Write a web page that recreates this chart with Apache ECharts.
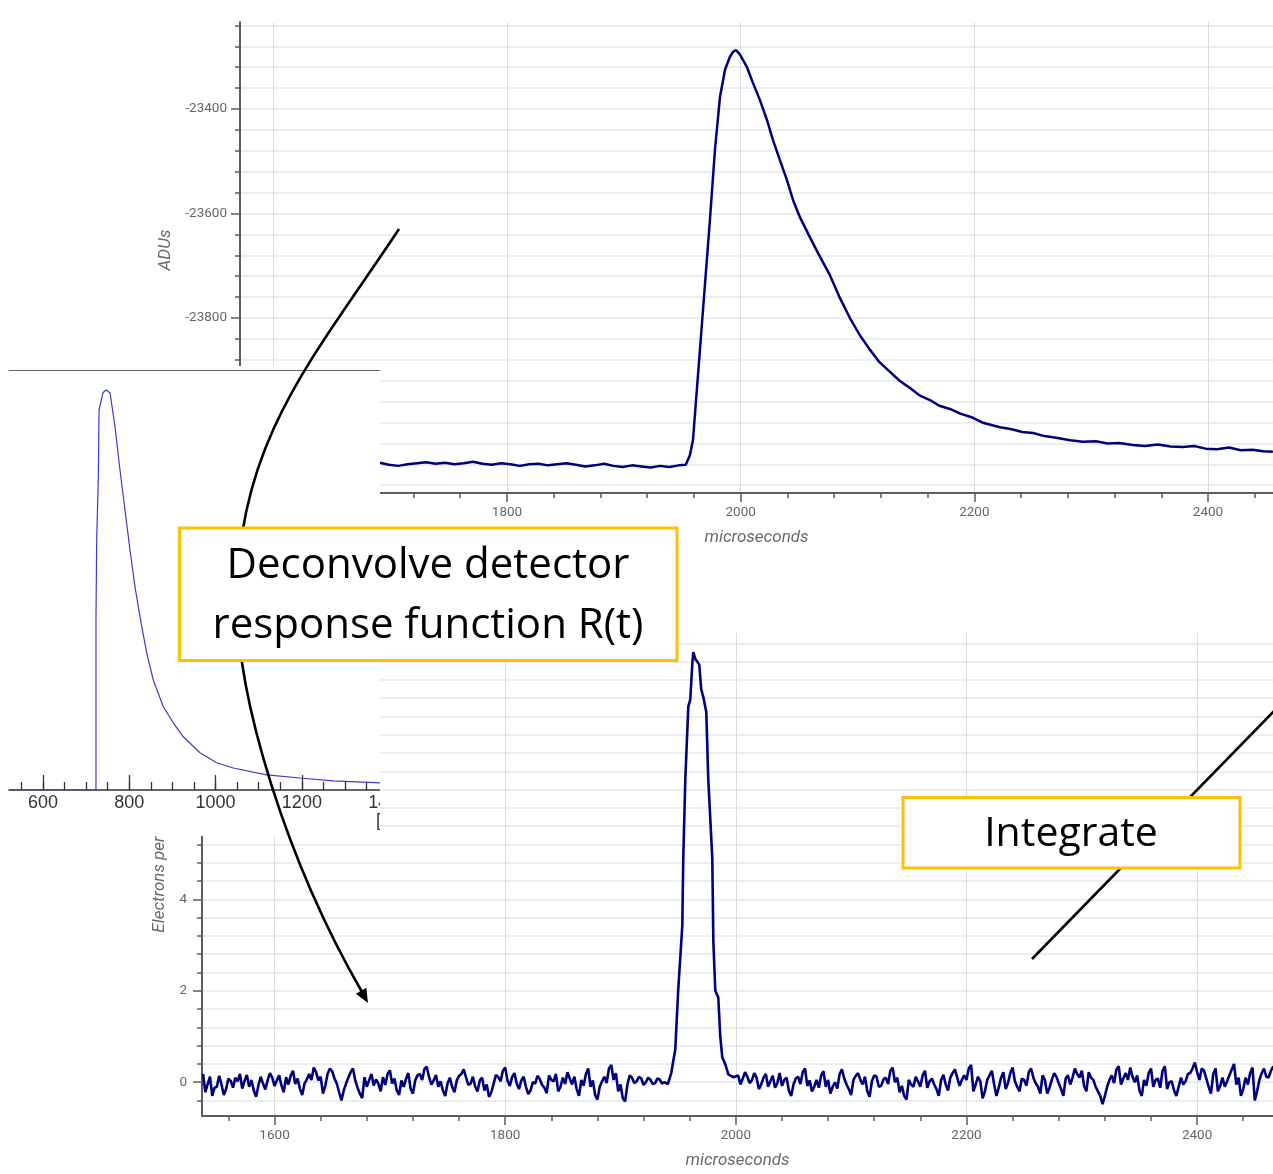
<!DOCTYPE html>
<html><head><meta charset="utf-8">
<script src="https://cdn.jsdelivr.net/npm/echarts@6/dist/echarts.min.js"></script>
<style>
html,body{margin:0;padding:0;background:#fff;width:1273px;height:1174px;overflow:hidden;position:relative}
#top{position:absolute;left:0;top:0;width:1273px;height:560px;z-index:1}
#bottom{position:absolute;left:0;top:560px;width:1273px;height:614px;z-index:2}
#insetWrap{position:absolute;left:0;top:366px;width:380px;height:470px;overflow:hidden;background:#fff;z-index:3}
#inset{position:absolute;left:0;top:0;width:440px;height:470px}
#overlay{position:absolute;left:0;top:0;width:1273px;height:1174px;z-index:4;pointer-events:none}
</style></head>
<body>
<div id="top"></div>
<div id="bottom"></div>
<div id="insetWrap"><div id="inset"></div></div>
<div id="overlay"></div>
<script>
// ---------------- DATA ----------------
// Top chart (ADUs vs microseconds): baseline samples then pulse
const topBaseStart = 1571, topBaseStep = 8;
const topBaseValues = [-24081,-24079,-24082,-24080,-24078,-24083,-24081,-24079,-24080,-24084,
 -24081,-24078,-24080,-24082,-24079,-24077,-24081,-24083,-24080,-24078,
 -24076,-24079,-24077,-24080,-24078,-24075,-24079,-24081,-24078,-24080,
 -24083,-24080,-24079,-24082,-24080,-24078,-24081,-24084,-24082,-24079,
 -24083,-24085,-24082,-24084,-24086,-24083,-24085,-24082];
const topPulseTimes = [1953,1956.6,1959.2,1965.2,1973.7,1978,1982.3,1986.6,1990.8,1993.4,1996,1999.4,2005.4,2010.5,2016.5,2022.5,2027.6,2033.6,2039.6,2044.8,2050.7,2058,2066,2076.4,2085,2093.5,2102,2110.7,2119,2127.8,2136,2144.9,2153,2162,2170,2179.1,2188,2198.8,2208,2221.9,2232,2241,2250.2,2260,2270,2282,2292.9,2304,2314,2324,2335.7,2346,2357,2368,2378.5,2388,2398,2407.6,2418,2428,2438,2447,2455.5];
const topPulseValues = [-24081,-24062,-24033,-23859,-23612,-23478,-23377,-23325,-23300,-23291,-23287,-23296,-23320,-23350,-23383,-23421,-23459,-23498,-23536,-23574,-23607,-23640,-23675,-23718,-23762,-23800,-23833,-23861,-23885,-23903,-23920,-23934,-23948,-23957,-23968,-23974,-23983,-23991,-24001,-24009,-24013,-24018,-24020,-24026,-24029,-24034,-24037,-24036,-24040,-24039,-24043,-24045,-24042,-24046,-24047,-24045,-24050,-24051,-24048,-24053,-24052,-24055,-24056];
const topXMajor = [1600,1800,2000,2200,2400];
const topYMajor = [-24000,-23800,-23600,-23400];

// Inset: detector response function R(t)
const insetTimes = [521,700,722.8,722.8,724.4,728.2,729.8,739,746,755.3,766.9,778.4,790,801.6,813.2,824.8,840.3,855.6,878.8,902,925.1,963.8,1002.5,1041,1118.4,1195.6,1272.8,1381,1520];
const insetValues = [0,0,0,0.425,0.625,0.78,0.95,0.993,1.0,0.993,0.908,0.80,0.70,0.60,0.508,0.433,0.343,0.275,0.208,0.168,0.133,0.093,0.068,0.055,0.038,0.030,0.023,0.018,0.015];
const insetXMajor = [600,800,1000,1200,1400];

// Bottom chart (Electrons per ... vs microseconds)
const botLeftStart = 1538, botLeftStep = 2;
const botLeftValues = [
 0.18,-0.22,-0.04,0.12,-0.3,-0.12,-0.1,0.14,-0.05,-0.28,-0.15,0.08,0.03,-0.12,0.1,0.02,0.18,-0.14,0.03,
 0.16,-0.1,0.05,-0.18,-0.32,-0.07,0.12,-0.03,-0.16,0.04,0.2,0.1,-0.08,0.04,0.15,-0.07,-0.22,0.11,-0.05,0.14,
 0.25,-0.04,0.08,-0.14,-0.28,-0.03,0.06,0.18,0.05,0.32,0.22,0.04,0.12,-0.25,-0.08,0.18,0.3,0.24,0.08,-0.03,
 -0.22,-0.4,-0.18,-0.03,0.1,0.22,0.3,0.04,-0.12,-0.25,-0.35,0.11,-0.1,0.04,0.18,-0.07,0.06,-0.03,-0.2,0.11,
 -0.06,0.18,0.26,-0.03,0.08,-0.18,-0.28,0.04,-0.1,0.07,0.2,-0.14,-0.25,0.04,0.15,0.18,0.05,0.29,0.34,0.11,
 -0.05,0.04,0.16,-0.1,0.02,-0.18,-0.3,-0.03,0.1,-0.1,-0.22,0.04,0.14,0.18,0.28,0.11,-0.06,-0.03,0.12,-0.1,
 -0.2,0.04,0.1,-0.18,-0.05,-0.32,-0.22,-0.03,0.16,0.11,0.02,0.25,0.32,0.04,-0.08,0.11,0.2,-0.03,-0.15,0.04,
 0.12,-0.1,-0.26,-0.18,0.0,-0.03,0.14,0.07,-0.06,-0.12,-0.24,0.15,0.05,0.02,0.18,-0.2,-0.1,0.1,-0.04,0.22,
 0.08,-0.05,0.12,-0.15,-0.3,0.05,-0.08,0.18,0.3,-0.1,0.04,-0.28,-0.38,-0.1,0.02,0.12,-0.02,0.3,0.38,0.05,
 0.2,-0.2,-0.05,-0.35,-0.42,-0.05,0.15,0.1,-0.02,0.02,0.12,0.08,-0.06,0.0,0.1,0.05,-0.04,-0.02,0.08,0.06,
 -0.03,0.0];
const botPeakTimes = [1941,1944,1947.5,1950,1953.6,1954.4,1956.2,1958.8,1960.5,1962.3,1963.1,1965,1966.6,1968.3,1970,1971.8,1974.4,1976.1,1979.6,1980.5,1982.2,1984.8,1986.5,1988.3,1990.9,1993.5,1997.8];
const botPeakValues = [-0.04,0.2,0.72,2.0,3.43,4.89,6.63,8.22,8.37,9.17,9.41,9.25,9.2,9.13,8.59,8.43,8.09,6.63,4.89,3.09,2.0,1.85,1.0,0.54,0.39,0.17,0.11];
const botRightStart = 2002, botRightStep = 2;
const botRightValues = [
 0.15,-0.05,0.08,0.22,0.12,-0.02,0.05,0.2,0.1,-0.15,-0.05,0.1,0.18,-0.1,0.02,0.14,-0.12,-0.02,0.2,
 -0.08,0.05,0.1,-0.18,-0.3,-0.05,0.08,0.12,-0.04,0.22,0.3,-0.08,0.04,-0.2,-0.1,0.05,-0.12,0.15,0.24,-0.1,
 0.05,-0.25,-0.1,0.0,-0.14,0.18,0.28,0.08,-0.05,-0.15,-0.28,0.05,0.14,0.2,0.05,-0.05,0.12,-0.2,-0.32,0.02,
 0.15,0.12,-0.1,-0.08,0.06,0.1,-0.04,0.25,0.32,0.0,0.1,-0.22,-0.08,-0.3,-0.38,0.05,-0.05,-0.1,0.12,0.02,
 -0.1,0.15,0.25,-0.12,0.02,0.08,-0.05,-0.15,-0.3,0.05,0.16,-0.05,-0.18,0.1,0.2,0.28,0.1,-0.08,0.05,0.15,
 0.05,0.3,0.38,-0.2,-0.05,0.12,0.02,-0.35,-0.2,0.05,0.15,0.25,-0.05,-0.3,-0.12,0.1,0.22,-0.15,-0.02,0.2,
 0.32,0.02,-0.1,-0.2,0.08,0.05,-0.08,0.22,0.3,0.1,-0.02,-0.1,-0.25,0.15,0.05,-0.25,-0.12,0.05,0.2,0.12,
 -0.02,-0.15,-0.3,0.08,0.15,-0.05,0.1,0.3,0.18,0.1,0.25,-0.08,-0.2,0.22,0.1,0.05,-0.1,-0.2,-0.3,-0.48,
 -0.3,-0.1,0.05,0.15,-0.02,0.28,0.35,-0.05,0.08,0.2,0.05,0.32,0.12,0.0,0.15,-0.18,-0.3,0.05,-0.08,0.2,
 0.3,-0.1,0.05,0.08,-0.12,0.25,0.35,-0.15,0.0,0.02,-0.18,-0.3,-0.1,0.1,-0.05,0.02,0.18,0.2,0.3,0.43,
 0.22,0.05,0.3,0.25,0.08,-0.1,-0.25,0.18,0.3,-0.2,-0.08,0.1,-0.1,0.02,0.15,0.28,0.4,-0.05,0.1,-0.3,
 -0.15,0.1,-0.05,0.2,0.32,-0.4,-0.2,0.05,0.2,0.3,0.12,0.1,0.25,0.35];
const botXMajor = [1600,1800,2000,2200,2400];
const botYMajor = [0,2,4,6,8];

// ---------------- helpers ----------------
function range(a, b, step) { const out = []; for (let v = a; v <= b + 1e-9; v += step) out.push(Math.round(v * 1000) / 1000); return out; }
function sampled(start, step, vals) { return vals.map((v, i) => [start + i * step, v]); }
function paired(ts, vs) { return ts.map((t, i) => [t, vs[i]]); }
const fmt = v => String(v);

const AX = '#5c5c5c';
const HGRID = '#e6e6f0';
const VGRID = '#dcdce6';
const LBL = {color: '#666', fontSize: 13.5, fontFamily: 'Roboto, sans-serif'};
const NAME = {color: '#6a6a6a', fontSize: 17, fontStyle: 'italic', fontFamily: 'Roboto, sans-serif'};
const LINE = '#00007c';

function minorAxis(min, max, ticks, extra) {
  return Object.assign({type: 'value', min: min, max: max,
    axisLine: {show: true, onZero: false, lineStyle: {color: AX, width: 2}},
    axisTick: {show: true, customValues: ticks, length: 5, lineStyle: {color: AX, width: 1.5}},
    axisLabel: {show: false}, splitLine: {show: false}}, extra);
}
function majorAxis(min, max, ticks, margin, extra) {
  return Object.assign({type: 'value', min: min, max: max,
    axisLine: {show: false, onZero: false},
    axisTick: {show: true, customValues: ticks, length: 9, lineStyle: {color: AX, width: 1.5}},
    axisLabel: Object.assign({show: true, customValues: ticks, formatter: fmt, margin: margin}, LBL),
    splitLine: {show: false}}, extra);
}

// ---------------- TOP CHART ----------------
const topData = sampled(topBaseStart, topBaseStep, topBaseValues).concat(paired(topPulseTimes, topPulseValues));
const topX = {min: 1571.5, max: 2455.6};
const topY = {min: -24134.9, max: -23233.5};
const topChart = echarts.init(document.getElementById('top'), null, {renderer: 'canvas'});
topChart.setOption({
  animation: false, backgroundColor: 'transparent',
  grid: {left: 240, right: 0, top: 22, height: 471, containLabel: false},
  xAxis: [
    minorAxis(topX.min, topX.max, range(1600, 2440, 40), {position: 'bottom'}),
    majorAxis(topX.min, topX.max, topXMajor, 13, {position: 'bottom',
      splitLine: {show: true, lineStyle: {color: VGRID, width: 1}},
      name: 'microseconds', nameLocation: 'middle', nameGap: 36, nameTextStyle: NAME})
  ],
  yAxis: [
    minorAxis(topY.min, topY.max, range(-24120, -23240, 40), {position: 'left',
      splitLine: {show: true, lineStyle: {color: HGRID, width: 1.5}}}),
    majorAxis(topY.min, topY.max, topYMajor, 13, {position: 'left',
      name: 'ADUs', nameLocation: 'middle', nameGap: 63, nameTextStyle: Object.assign({padding: [0, 0, 0, 15]}, NAME)})
  ],
  series: [{type: 'line', xAxisIndex: 0, yAxisIndex: 0, data: topData, showSymbol: false, silent: true,
            lineStyle: {color: LINE, width: 2.5}, clip: true}]
});

// ---------------- BOTTOM CHART ----------------
const botData = sampled(botLeftStart, botLeftStep, botLeftValues)
  .concat(paired(botPeakTimes, botPeakValues))
  .concat(sampled(botRightStart, botRightStep, botRightValues));
const botX = {min: 1537.1, max: 2465.8};
const botY = {min: -0.739, max: 9.826};
const botChart = echarts.init(document.getElementById('bottom'), null, {renderer: 'canvas'});
botChart.setOption({
  animation: false, backgroundColor: 'transparent',
  grid: {left: 202, right: 0, top: 73, height: 486, containLabel: false},
  xAxis: [
    minorAxis(botX.min, botX.max, range(1560, 2440, 40), {position: 'bottom'}),
    majorAxis(botX.min, botX.max, botXMajor, 13, {position: 'bottom',
      splitLine: {show: true, lineStyle: {color: VGRID, width: 1}},
      name: 'microseconds', nameLocation: 'middle', nameGap: 36, nameTextStyle: NAME})
  ],
  yAxis: [
    minorAxis(botY.min, botY.max, range(-0.4, 9.6, 0.4), {position: 'left',
      splitLine: {show: true, lineStyle: {color: HGRID, width: 1.5}}}),
    majorAxis(botY.min, botY.max, botYMajor, 15, {position: 'left',
      name: 'Electrons per', nameLocation: 'middle', nameGap: 26, nameTextStyle: Object.assign({padding: [0, 20, 0, 0]}, NAME)})
  ],
  series: [{type: 'line', xAxisIndex: 0, yAxisIndex: 0, data: botData, showSymbol: false, silent: true,
            lineStyle: {color: LINE, width: 2.6}, clip: true}]
});

// ---------------- INSET ----------------
const insetChart = echarts.init(document.getElementById('inset'), null, {renderer: 'canvas'});
const insetX = {min: 521.2, max: 1520.1};
insetChart.setOption({
  animation: false, backgroundColor: '#fff',
  grid: {left: 9, right: 0, top: 4, height: 420, containLabel: false},
  xAxis: [
    {type: 'value', position: 'bottom', min: insetX.min, max: insetX.max,
     axisLine: {show: true, onZero: false, lineStyle: {color: '#333', width: 1.5}},
     axisTick: {show: true, inside: true, customValues: range(550, 1500, 50), length: 8, lineStyle: {color: '#333', width: 1.3}},
     axisLabel: {show: false}, splitLine: {show: false}},
    {type: 'value', position: 'bottom', min: insetX.min, max: insetX.max,
     axisLine: {show: false, onZero: false},
     axisTick: {show: true, inside: true, customValues: insetXMajor, length: 15, lineStyle: {color: '#333', width: 1.3}},
     axisLabel: {show: true, customValues: insetXMajor, formatter: fmt, margin: 4, color: '#333', fontSize: 18, fontFamily: 'Liberation Sans, Arial, sans-serif'},
     splitLine: {show: false}},
    {type: 'value', position: 'top', min: insetX.min, max: insetX.max,
     axisLine: {show: true, onZero: false, lineStyle: {color: '#666', width: 1}},
     axisTick: {show: false}, axisLabel: {show: false}, splitLine: {show: false}}
  ],
  yAxis: {type: 'value', min: 0, max: 1.05, show: false, splitLine: {show: false}},
  series: [{type: 'line', xAxisIndex: 0, data: paired(insetTimes, insetValues), showSymbol: false, silent: true,
            lineStyle: {color: '#3b3bcc', width: 1.2}}],
  graphic: [{type: 'text', left: 376, top: 446, style: {text: '[µs]', fill: '#333', fontSize: 18, fontFamily: 'Liberation Sans, Arial, sans-serif'}}]
});

// ---------------- ANNOTATION OVERLAY ----------------
const overlay = echarts.init(document.getElementById('overlay'), null, {renderer: 'canvas'});
const boxFont = '"Open Sans", Lato, sans-serif';
const txt = (x, y, s, size) => ({type: 'text', z: 3, x: x, y: y, style: {text: s, fill: '#000', fontSize: size, fontFamily: boxFont,
  align: 'center', verticalAlign: 'middle', textAlign: 'center', textVerticalAlign: 'middle'}});
overlay.setOption({
  animation: false, backgroundColor: 'transparent',
  graphic: [
    {type: 'bezierCurve', z: 1, shape: {x1: 399, y1: 229, cpx1: 316.5, cpy1: 354, cpx2: 237, cpy2: 440, x2: 237, y2: 600},
     style: {stroke: '#000', lineWidth: 2.6, fill: null}},
    {type: 'bezierCurve', z: 1, shape: {x1: 237, y1: 600, cpx1: 237, cpy1: 700, cpx2: 286.6, cpy2: 860.8, x2: 362, y2: 992},
     style: {stroke: '#000', lineWidth: 2.6, fill: null}},
    {type: 'polygon', z: 1, shape: {points: [[368,1003],[355.9,993.8],[366.3,987.8]]}, style: {fill: '#000'}},
    {type: 'line', z: 1, shape: {x1: 1275, y1: 710, x2: 1032, y2: 959}, style: {stroke: '#000', lineWidth: 2.6}},
    {type: 'rect', z: 2, shape: {x: 179.5, y: 528, width: 497.5, height: 132.5}, style: {fill: '#fff', stroke: '#FFC000', lineWidth: 3}},
    txt(428, 566, 'Deconvolve detector', 42),
    txt(428, 626, 'response function R(t)', 42),
    {type: 'rect', z: 2, shape: {x: 903, y: 797.5, width: 337, height: 70.5}, style: {fill: '#fff', stroke: '#FFC000', lineWidth: 3}},
    txt(1071, 834, 'Integrate', 41)
  ]
});
</script>
</body></html>
